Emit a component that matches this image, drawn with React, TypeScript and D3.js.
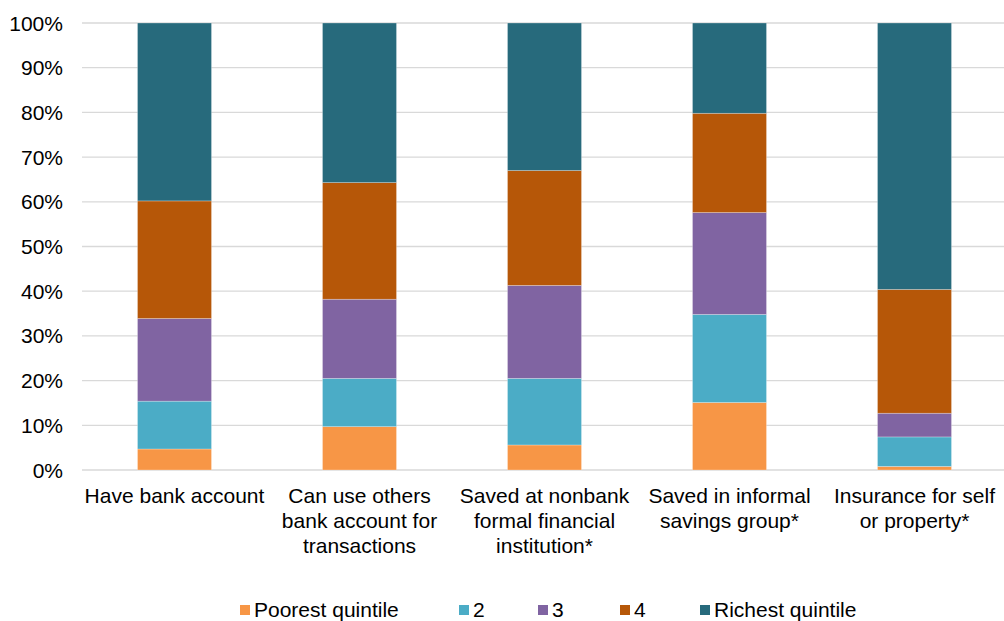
import React from "react";
import * as d3 from "d3";

const categories: string[][] = [
  ["Have bank account"],
  ["Can use others", "bank account for", "transactions"],
  ["Saved at nonbank", "formal financial", "institution*"],
  ["Saved in informal", "savings group*"],
  ["Insurance for self", "or property*"],
];
const seriesNames = ["Poorest quintile", "2", "3", "4", "Richest quintile"];
const poorest = [4.7, 9.7, 5.6, 15.1, 0.8];
const q2 = [10.7, 10.8, 14.9, 19.7, 6.6];
const q3 = [18.5, 17.7, 20.8, 22.8, 5.3];
const q4 = [26.3, 26.1, 25.7, 22.2, 27.7];
const richest = [39.8, 35.7, 33.0, 20.2, 59.6];
const colors = ["#F79646", "#4BACC6", "#8064A2", "#B65708", "#276A7C"];
const yTicks = [0, 10, 20, 30, 40, 50, 60, 70, 80, 90, 100];

const W = 1004;
const H = 621;
const FONT = "'Liberation Sans', Arial, sans-serif";
const FS = 21;

export default function App() {
  const series = [poorest, q2, q3, q4, richest];
  const rows = categories.map((_, i) => {
    const r: any = { idx: i };
    seriesNames.forEach((s, k) => (r[s] = series[k][i]));
    return r;
  });
  const stacked = d3.stack<any>().keys(seriesNames).offset(d3.stackOffsetExpand)(rows);

  const x = d3
    .scaleBand<number>()
    .domain(categories.map((_, i) => i))
    .range([82, 1007])
    .paddingInner(0.6)
    .paddingOuter(0.3);
  const y = d3.scaleLinear().domain([0, 1]).range([470, 23]);

  const legendX = [240, 459, 538, 620, 700];

  return (
    <svg width={W} height={H} style={{ position: "absolute", left: 0, top: 0, background: "#fff" }} fontFamily={FONT}>
      {yTicks.map((t) => (
        <g key={t}>
          <line x1={82} x2={1004} y1={y(t / 100)} y2={y(t / 100)} stroke="#D9D9D9" strokeWidth={1.3} />
          <text x={63} y={y(t / 100)} textAnchor="end" dominantBaseline="central" fontSize={FS} fill="#000">
            {t}%
          </text>
        </g>
      ))}
      {stacked.map((layer, k) => (
        <g key={layer.key} fill={colors[k]}>
          {layer.map((d, i) => (
            <rect
              key={i}
              x={x(i)}
              width={x.bandwidth()}
              y={y(d[1])}
              height={y(d[0]) - y(d[1])}
              stroke="#ffffff"
              strokeOpacity={0.35}
              strokeWidth={0.75}
            />
          ))}
        </g>
      ))}
      {categories.map((lines, i) => (
        <text key={i} textAnchor="middle" fontSize={FS} fill="#000">
          {lines.map((l, j) => (
            <tspan key={j} x={(x(i) as number) + x.bandwidth() / 2} y={495 + j * 25} dominantBaseline="central">
              {l}
            </tspan>
          ))}
        </text>
      ))}
      {seriesNames.map((s, k) => (
        <g key={s}>
          <rect x={legendX[k]} y={605} width={10} height={10} fill={colors[k]} />
          <text x={legendX[k] + 14} y={609.5} dominantBaseline="central" fontSize={FS} fill="#000">
            {s}
          </text>
        </g>
      ))}
    </svg>
  );
}
